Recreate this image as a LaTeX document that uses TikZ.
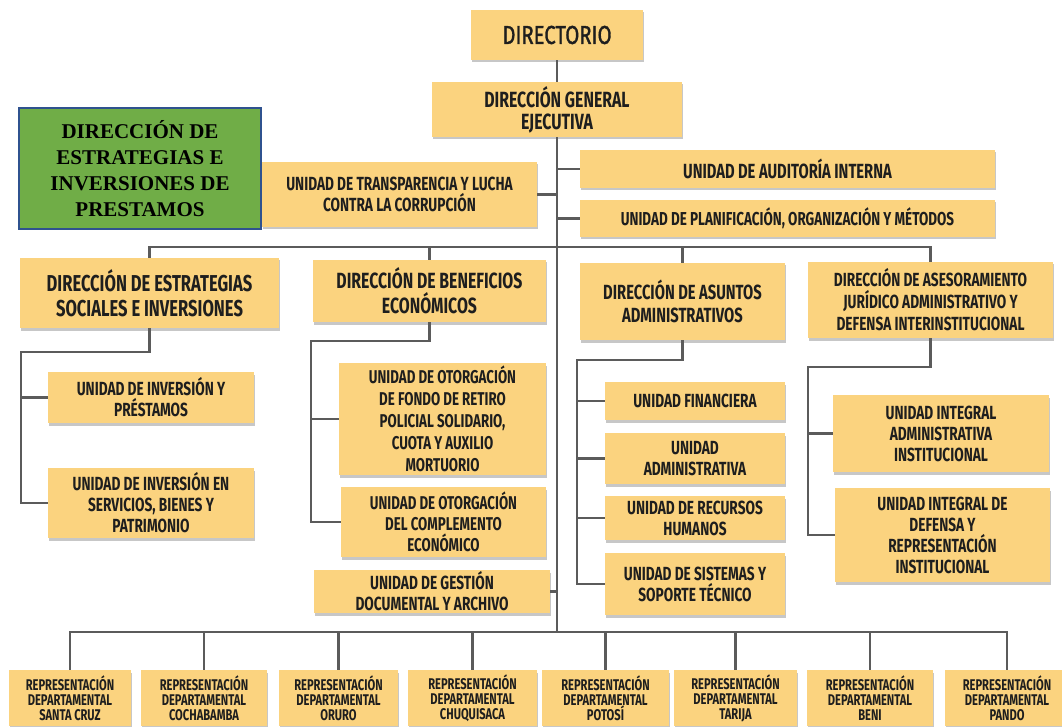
\documentclass[tikz,border=0pt]{standalone}
\usepackage{fontspec}
\usepackage{tikz}
\usetikzlibrary{shadows}
\newfontfamily\orgfont[FakeStretch=0.72]{Fira Sans}
\newfontfamily\orgmed[FakeStretch=0.78,FakeBold=1.2]{Fira Sans}
\newfontfamily\greenfont{Liberation Serif}
\definecolor{boxfill}{HTML}{FBD37F}
\definecolor{linegray}{HTML}{5B5B5B}
\definecolor{inkdark}{HTML}{1E1E1E}
\definecolor{greenfill}{HTML}{70AD47}
\definecolor{greenedge}{HTML}{2F528F}
\tikzset{
  conn/.style={draw=linegray,line width=2.4pt},
  orgbox/.style={fill=boxfill,text=inkdark,align=center,inner sep=1pt,
    drop shadow={shadow xshift=1pt,shadow yshift=-2.5pt,fill=black!40,opacity=.55}},
  wh/.style 2 args={minimum width=#1,minimum height=#2},
  head/.style={font=\orgfont\bfseries\fontsize{22}{25}\selectfont},
  unit/.style={font=\orgfont\bfseries\fontsize{19}{21}\selectfont},
  rep/.style={font=\orgfont\bfseries\fontsize{15.5}{15}\selectfont}
}

\begin{document}
\begin{tikzpicture}[x=1pt,y=-1pt]
  \useasboundingbox (0,0) rectangle (1062,727);
  % top of the chart
  \node[orgbox,wh={172}{50},font=\orgmed\fontsize{26}{28}\selectfont] (dir) at (557,35) {DIRECTORIO};
  \node[orgbox,wh={250}{55},font=\orgfont\bfseries\fontsize{22}{22}\selectfont] (dge) at (557,109.5) {DIRECCIÓN GENERAL\\EJECUTIVA};
  \node[draw=greenedge,line width=1.5pt,fill=greenfill,wh={242}{121},align=center,
    font=\greenfont\bfseries\fontsize{21}{26}\selectfont] (dei) at (140,168.5)
    {DIRECCIÓN DE\\ESTRATEGIAS E\\INVERSIONES DE\\PRESTAMOS};
  \node[orgbox,unit,wh={275}{65}] (utr) at (399.5,194.5) {UNIDAD DE TRANSPARENCIA Y LUCHA\\CONTRA LA CORRUPCIÓN};
  \node[orgbox,unit,wh={415}{38},font=\orgfont\bfseries\fontsize{20.5}{21}\selectfont] (uai) at (787.5,169) {UNIDAD DE AUDITORÍA INTERNA};
  \node[orgbox,unit,wh={415}{37},font=\orgfont\bfseries\fontsize{18.7}{21}\selectfont] (upo) at (787.5,218.5) {UNIDAD DE PLANIFICACIÓN, ORGANIZACIÓN Y MÉTODOS};
  % direcciones
  \node[orgbox,head,wh={259}{70},font=\orgfont\bfseries\fontsize{23}{25}\selectfont] (desi) at (149.5,293) {DIRECCIÓN DE ESTRATEGIAS\\SOCIALES E INVERSIONES};
  \node[orgbox,head,wh={233}{62}] (dbe) at (429.5,291) {DIRECCIÓN DE BENEFICIOS\\ECONÓMICOS};
  \node[orgbox,head,wh={205}{77},font=\orgfont\bfseries\fontsize{20.5}{23}\selectfont] (daa) at (682.5,301.5) {DIRECCIÓN DE ASUNTOS\\ADMINISTRATIVOS};
  \node[orgbox,unit,wh={245}{76},font=\orgfont\bfseries\fontsize{19}{22}\selectfont] (dajd) at (930.5,300) {DIRECCIÓN DE ASESORAMIENTO\\JURÍDICO ADMINISTRATIVO Y\\DEFENSA INTERINSTITUCIONAL};
  % unidades
  \node[orgbox,unit,wh={206}{51}] (uip) at (151,397.5) {UNIDAD DE INVERSIÓN Y\\PRÉSTAMOS};
  \node[orgbox,unit,wh={206}{70}] (uis) at (151,503) {UNIDAD DE INVERSIÓN EN\\SERVICIOS, BIENES Y\\PATRIMONIO};
  \node[orgbox,unit,wh={207}{112},font=\orgfont\bfseries\fontsize{18.5}{22}\selectfont] (ufr) at (442.5,419) {UNIDAD DE OTORGACIÓN\\DE FONDO DE RETIRO\\POLICIAL SOLIDARIO,\\CUOTA Y AUXILIO\\MORTUORIO};
  \node[orgbox,unit,wh={205}{70},font=\orgfont\bfseries\fontsize{18.5}{21}\selectfont] (uce) at (443.5,522) {UNIDAD DE OTORGACIÓN\\DEL COMPLEMENTO\\ECONÓMICO};
  \node[orgbox,unit,wh={236}{43}] (ugd) at (432,591.5) {UNIDAD DE GESTIÓN\\DOCUMENTAL Y ARCHIVO};
  \node[orgbox,unit,wh={180}{38}] (ufi) at (695,401) {UNIDAD FINANCIERA};
  \node[orgbox,unit,wh={180}{51}] (uad) at (695,458.5) {UNIDAD\\ADMINISTRATIVA};
  \node[orgbox,unit,wh={180}{44}] (urh) at (695,518) {UNIDAD DE RECURSOS\\HUMANOS};
  \node[orgbox,unit,wh={180}{62}] (ust) at (695,584) {UNIDAD DE SISTEMAS Y\\SOPORTE TÉCNICO};
  \node[orgbox,unit,wh={216}{77}] (uia) at (941,433.5) {UNIDAD INTEGRAL\\ADMINISTRATIVA\\INSTITUCIONAL};
  \node[orgbox,unit,wh={215}{94}] (uid) at (942.5,535) {UNIDAD INTEGRAL DE\\DEFENSA Y\\REPRESENTACIÓN\\INSTITUCIONAL};
  % representaciones departamentales
  \foreach \nm/\cx/\bw/\dep in {rsc/70/122/SANTA CRUZ,rcb/204/126/COCHABAMBA,ror/338.5/119/ORURO,
      rch/472.5/129/CHUQUISACA,rpt/605.5/127/POTOSÍ,rtj/735.5/123/TARIJA,rbe/870/126/BENI,rpa/1007/124/PANDO}
    \node[orgbox,rep,wh={\bw}{56}] (\nm) at (\cx,698) {REPRESENTACIÓN\\DEPARTAMENTAL\\\dep};
  % connectors
  \coordinate (spine) at (557,632);
  \coordinate (bus) at (0,247);
  \coordinate (tl) at (21,352);
  \coordinate (tb) at (311,341);
  \coordinate (ta) at (577,360);
  \coordinate (tj) at (808,367);
  \draw[conn] (dir.south) -- (dge.north);
  \draw[conn] (dge.south) -- (dge.south |- spine);
  \draw[conn] (utr.east) -- (utr.east -| spine);
  \draw[conn] (uai.west) -- (uai.west -| spine);
  \draw[conn] (upo.west) -- (upo.west -| spine);
  \draw[conn] (ugd.east) -- (ugd.east -| spine);
  \draw[conn] (desi.north) |- (bus -| dajd) -- (dajd.north);
  \draw[conn] (dbe.north) -- (dbe.north |- bus);
  \draw[conn] (daa.north) -- (daa.north |- bus);
  \draw[conn] (desi.south) |- (tl) |- (uis.west);
  \draw[conn] (uip.west) -- (uip.west -| tl);
  \draw[conn] (dbe.south) |- (tb) |- (uce.west);
  \draw[conn] (ufr.west) -- (ufr.west -| tb);
  \draw[conn] (daa.south) |- (ta) |- (ust.west);
  \foreach \nm in {ufi,uad,urh}
    \draw[conn] (\nm.west) -- (\nm.west -| ta);
  \draw[conn] (dajd.south) |- (tj) |- (uid.west);
  \draw[conn] (uia.west) -- (uia.west -| tj);
  \draw[conn] (rsc.north) |- (spine -| rpa) -- (rpa.north);
  \foreach \nm in {rcb,ror,rch,rpt,rtj,rbe}
    \draw[conn] (\nm.north) -- (\nm.north |- spine);
\end{tikzpicture}
\end{document}
